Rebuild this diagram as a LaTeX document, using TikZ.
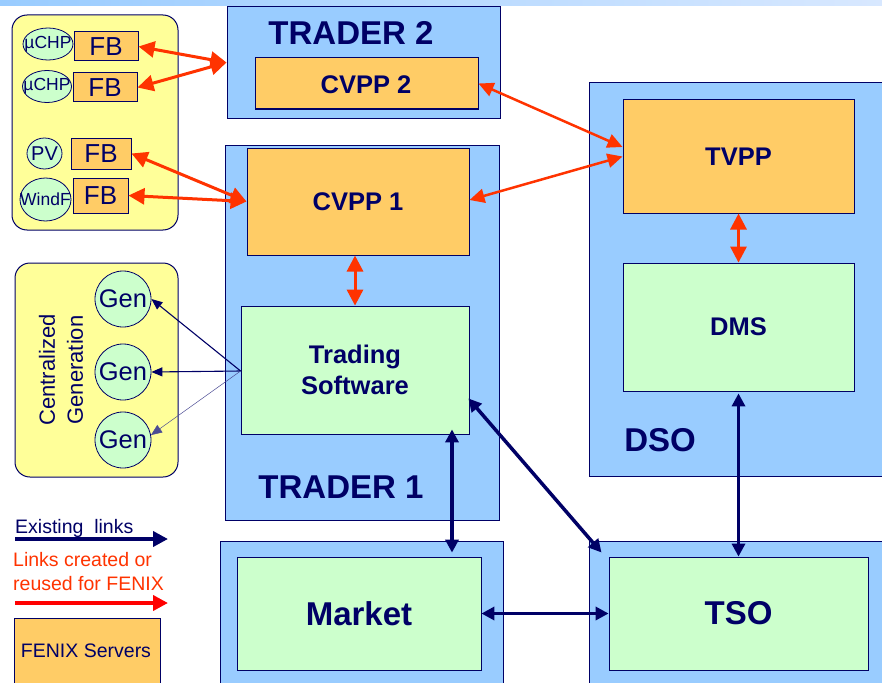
\documentclass[tikz,border=0pt]{standalone}
\usepackage{fontspec}
\setmainfont{Liberation Sans}
\usetikzlibrary{arrows.meta,shapes.geometric,calc}
\definecolor{navy}{HTML}{000066}
\definecolor{blueF}{HTML}{99CCFF}
\definecolor{orangeF}{HTML}{FFCC66}
\definecolor{greenF}{HTML}{CCFFCC}
\definecolor{yellowF}{HTML}{FFFF99}
\definecolor{fenixred}{HTML}{FF3300}
\definecolor{legred}{HTML}{FF0000}
\definecolor{bandL}{HTML}{99CCFF}
\definecolor{bandR}{HTML}{D8E8FF}
\tikzset{
  box/.style={draw=navy, line width=1pt, inner sep=0pt, text=navy},
  outerbox/.style={box, fill=blueF},
  orangebox/.style={box, fill=orangeF},
  greenbox/.style={box, fill=greenF, line width=0.8pt},
  yellowbox/.style={box, fill=yellowF, rounded corners=15pt},
  bigtitle/.style={text=navy, font=\fontsize{33}{40}\selectfont\bfseries, inner sep=0pt},
  midlabel/.style={text=navy, font=\fontsize{25.5}{31}\selectfont\bfseries, inner sep=0pt, align=center},
  smalllbl/.style={text=navy, font=\fontsize{17.5}{20}\selectfont, inner sep=0pt},
  fenix/.style={draw=fenixred, line width=3pt, {Triangle[length=16pt,width=16pt]}-{Triangle[length=16pt,width=16pt]}},
  fenixthin/.style={draw=fenixred, line width=2.5pt, {Triangle[length=15pt,width=14pt]}-{Triangle[length=15pt,width=14pt]}},
  exist/.style={draw=navy, line width=3.5pt, {Triangle[length=13pt,width=13pt]}-{Triangle[length=13pt,width=13pt]}},
  thinlink/.style={draw=navy, line width=1.1pt, -{Triangle[length=11pt,width=9pt]}},
}
\begin{document}
\begin{tikzpicture}[x=1pt,y=-1pt]
\useasboundingbox (0,0) rectangle (882,682);
\clip (0,0) rectangle (882,682);
% top band
\shade[left color=bandL, right color=bandR] (0,0) rectangle (882,6);

% DER group
\node[yellowbox, minimum width=166, minimum height=215] (der) at (95,122.5) {};
\node[box, ellipse, fill=greenF, line width=0.8pt, minimum width=50, minimum height=32] (chp1) at (48,44) {};
\node[smalllbl] (chp1t) at (chp1) {µCHP};
\node[orangebox, minimum width=64, minimum height=29, font=\fontsize{26}{30}\selectfont] (fb1) at (106,46.5) {FB};
\node[box, ellipse, fill=greenF, line width=0.8pt, minimum width=49, minimum height=32] (chp2) at (47,86.5) {};
\node[smalllbl] (chp2t) at (chp2) {µCHP};
\node[orangebox, minimum width=64, minimum height=29, font=\fontsize{26}{30}\selectfont] (fb2) at (105,87.5) {FB};
\node[box, ellipse, fill=greenF, line width=0.8pt, minimum width=35, minimum height=31] (pv) at (44.5,153.5) {};
\node[text=navy, font=\fontsize{20}{24}\selectfont, inner sep=0pt] (pvt) at (pv) {PV};
\node[orangebox, minimum width=60, minimum height=31, font=\fontsize{26}{30}\selectfont] (fb3) at (101,153.5) {FB};
\node[box, ellipse, fill=greenF, line width=0.8pt, minimum width=51, minimum height=43] (wind) at (45.5,199.5) {};
\node[smalllbl] (windt) at (wind) {WindF};
\node[orangebox, minimum width=55, minimum height=35, font=\fontsize{26}{30}\selectfont] (fb4) at (100.5,195.5) {FB};

% Centralized generation
\node[yellowbox, minimum width=163, minimum height=214] (cg) at (96.5,370) {};
\node[text=navy, font=\fontsize{22}{28}\selectfont, align=center, rotate=90, inner sep=0pt] (cgt) at (61,370) {Centralized\\Generation};
\node[box, circle, fill=greenF, line width=0.8pt, minimum size=56, font=\fontsize{25.5}{30}\selectfont] (gen1) at (123,299) {Gen};
\node[box, circle, fill=greenF, line width=0.8pt, minimum size=56, font=\fontsize{25.5}{30}\selectfont] (gen2) at (123,372) {Gen};
\node[box, circle, fill=greenF, line width=0.8pt, minimum size=56, font=\fontsize{25.5}{30}\selectfont] (gen3) at (123,440) {Gen};

% Trader 2
\node[outerbox, minimum width=273, minimum height=111] (trader2) at (363.5,62.5) {};
\node[bigtitle] (t2t) at (351,33) {TRADER 2};
\node[orangebox, minimum width=223, minimum height=51] (cvpp2) at (366.5,83.5) {};
\node[midlabel] (cvpp2t) at (366,85) {CVPP 2};

% Trader 1
\node[outerbox, minimum width=274, minimum height=375] (trader1) at (362,332.5) {};
\node[bigtitle] (t1t) at (341,487) {TRADER 1};
\node[orangebox, minimum width=222, minimum height=107, midlabel] (cvpp1) at (358,201.5) {CVPP 1};
\node[greenbox, minimum width=228, minimum height=128, midlabel] (trading) at (355,370) {Trading\\Software};

% DSO
\node[outerbox, minimum width=300, minimum height=393] (dso) at (739,279.5) {};
\node[bigtitle] (dsot) at (660,440) {DSO};
\node[orangebox, minimum width=231, minimum height=113, midlabel] (tvpp) at (738.5,156.5) {TVPP};
\node[greenbox, minimum width=231, minimum height=128, midlabel] (dms) at (738.5,327) {DMS};

% Market & TSO
\node[outerbox, minimum width=283, minimum height=149] (market) at (361.5,615.5) {};
\node[greenbox, minimum width=244, minimum height=113, bigtitle] (marketin) at (359,613.5) {Market};
\node[outerbox, minimum width=301, minimum height=149] (tso) at (739.5,615.5) {};
\node[greenbox, minimum width=259, minimum height=113, bigtitle] (tsoin) at (738.5,613.5) {TSO};

% Legend
\node[text=navy, font=\fontsize{19.5}{23}\selectfont, inner sep=0pt, anchor=base west] (leg1) at (15,533) {Existing\ \ links};
\coordinate (l1a) at (15,539);
\coordinate (l1b) at (168,539);
\draw[draw=navy, line width=4pt, -{Triangle[length=15pt,width=15pt]}] (l1a) -- (l1b);
\node[text=fenixred, font=\fontsize{19.5}{24}\selectfont, inner sep=0pt, anchor=base west] (leg2) at (13,566) {Links created or};
\node[text=fenixred, font=\fontsize{19.5}{24}\selectfont, inner sep=0pt, anchor=base west] (leg3) at (13,590) {reused for FENIX};
\coordinate (l2a) at (15,603);
\coordinate (l2b) at (168,603);
\draw[draw=legred, line width=4pt, -{Triangle[length=15pt,width=15pt]}] (l2a) -- (l2b);
\node[orangebox, minimum width=146, minimum height=72] (legbox) at (87,654) {};
\node[text=navy, font=\fontsize{19.5}{24}\selectfont, inner sep=0pt] (legboxt) at (86,651) {FENIX Servers};

% FENIX links
\draw[fenix] (fb1.east) -- (trader2.west);
\draw[fenix] (fb2.east) -- (trader2.west);
\draw[fenix] (fb3.east) -- (cvpp1.west);
\draw[fenix] (fb4.east) -- (cvpp1.west);
\draw[fenixthin] (cvpp2.east) -- ([yshift=9.5pt]tvpp.west);
\draw[fenixthin] ([yshift=1.5pt]cvpp1.east) -- (tvpp.west);
\draw[fenix] (trading.north |- cvpp1.south) -- (trading.north);
\draw[fenix] (tvpp.south) -- (dms.south |- dms.north);

% Existing links
\coordinate (a1) at ($(trading.south)+(97,-5)$);
\coordinate (a2) at (a1 |- tsoin.north);
\draw[exist] (a1) -- ([yshift=4pt]a2);
\coordinate (b1) at ($(trading.south east)+(-1,-36)$);
\coordinate (b2) at ($(tso.north west)+(13,12)$);
\draw[exist] (b1) -- (b2);
\draw[exist] ([yshift=-2pt]dms.south) -- (tsoin.north);
\draw[exist] (marketin.east) -- (tsoin.west);

% Trading -> Gen links
\coordinate (ts) at ([yshift=-1pt]trading.west);
\draw[thinlink] (ts) -- (gen1.east);
\draw[thinlink] (ts) -- (gen2.east);
\draw[draw=navy!70, line width=0.5pt, -{Triangle[length=11pt,width=9pt]}] (ts) -- (gen3.10);
\end{tikzpicture}
\end{document}
